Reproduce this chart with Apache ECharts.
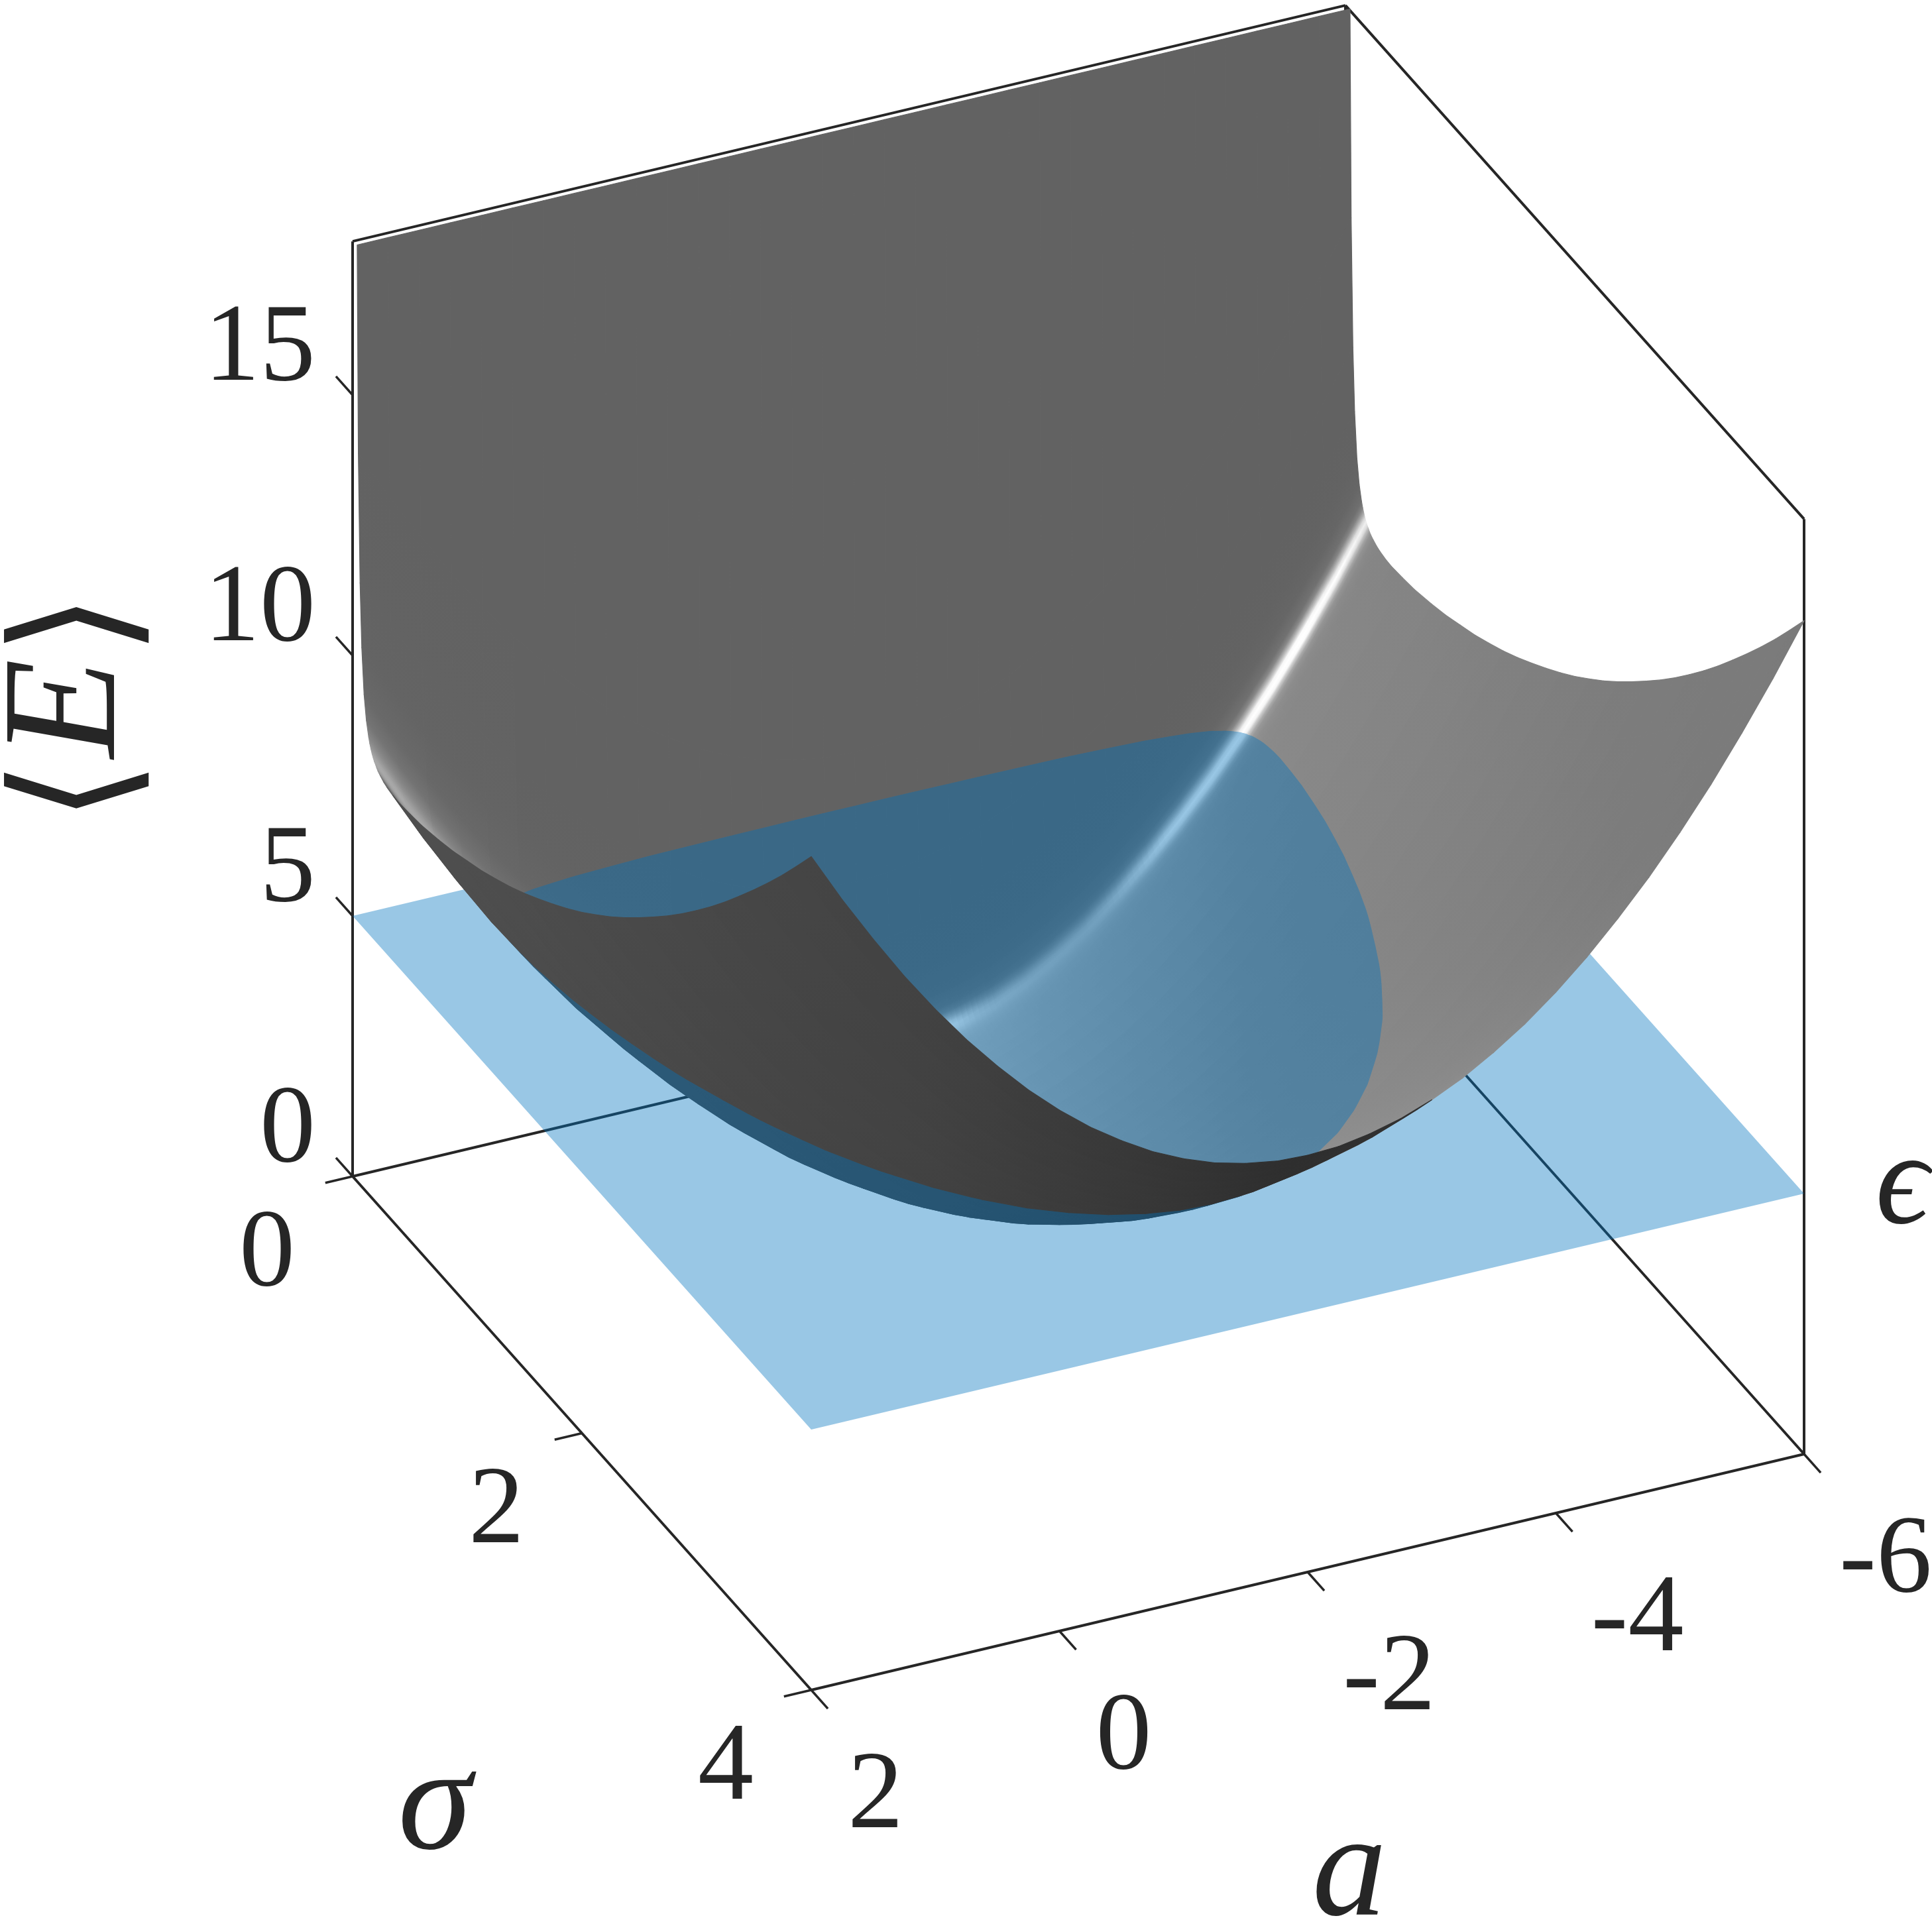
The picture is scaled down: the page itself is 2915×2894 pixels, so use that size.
<!DOCTYPE html>
<html><head><meta charset="utf-8">
<style>html,body{margin:0;padding:0;background:#fff}#c{width:2915px;height:2894px}</style>
<script src="https://cdn.jsdelivr.net/npm/echarts@6/dist/echarts.min.js"></script>
</head><body><div id="c"></div>
<script>
const aValues=[-6,-5.75,-5.5,-5.25,-5,-4.75,-4.5,-4.25,-4,-3.75,-3.5,-3.25,-3,-2.75,-2.5,-2.25,-2,-1.75,-1.5,-1.25,-1,-0.75,-0.5,-0.25,0,0.25,0.5,0.75,1,1.25,1.5,1.75,2];
const sigmaValues=[0.04,0.05,0.065,0.08,0.1,0.12,0.14,0.15,0.16,0.17,0.18,0.19,0.2,0.21,0.22,0.24,0.27,0.3,0.35,0.4,0.5,0.6,0.75,0.875,1,1.125,1.25,1.375,1.5,1.625,1.75,1.875,2,2.125,2.25,2.375,2.5,2.625,2.75,2.875,3,3.125,3.25,3.375,3.5,3.625,3.75,3.875,4];
const energy=[
[17.98,17.98,17.98,17.98,17.98,17.98,17.98,17.98,17.98,17.98,17.98,17.98,17.98,17.98,17.98,17.98,17.98,17.98,17.98,17.98,17.98,17.98,17.98,17.98,17.98,17.98,17.98,17.98,17.98,17.98,17.98,17.98,17.98],
[14,13.03,12.13,11.28,10.5,9.78,9.13,8.53,8,7.53,7.13,6.78,6.5,6.28,6.13,6.03,6,6.03,6.13,6.28,6.5,6.78,7.13,7.53,8,8.53,9.13,9.78,10.5,11.28,12.13,13.03,14],
[11.55,10.58,9.68,8.83,8.05,7.33,6.68,6.08,5.55,5.08,4.68,4.33,4.05,3.83,3.68,3.58,3.55,3.58,3.68,3.83,4.05,4.33,4.68,5.08,5.55,6.08,6.68,7.33,8.05,8.83,9.68,10.58,11.55],
[10.35,9.38,8.48,7.63,6.85,6.13,5.48,4.88,4.35,3.88,3.48,3.13,2.85,2.63,2.48,2.38,2.35,2.38,2.48,2.63,2.85,3.13,3.48,3.88,4.35,4.88,5.48,6.13,6.85,7.63,8.48,9.38,10.35],
[9.5,8.53,7.63,6.78,6,5.28,4.63,4.03,3.5,3.03,2.63,2.28,2,1.78,1.63,1.53,1.5,1.53,1.63,1.78,2,2.28,2.63,3.03,3.5,4.03,4.63,5.28,6,6.78,7.63,8.53,9.5],
[9.05,8.08,7.18,6.33,5.55,4.83,4.18,3.58,3.05,2.58,2.18,1.83,1.55,1.33,1.18,1.08,1.05,1.08,1.18,1.33,1.55,1.83,2.18,2.58,3.05,3.58,4.18,4.83,5.55,6.33,7.18,8.08,9.05],
[8.78,7.81,6.91,6.06,5.28,4.56,3.91,3.31,2.78,2.31,1.91,1.56,1.28,1.06,0.91,0.81,0.78,0.81,0.91,1.06,1.28,1.56,1.91,2.31,2.78,3.31,3.91,4.56,5.28,6.06,6.91,7.81,8.78],
[8.68,7.71,6.81,5.96,5.18,4.46,3.81,3.21,2.68,2.21,1.81,1.46,1.18,0.96,0.81,0.71,0.68,0.71,0.81,0.96,1.18,1.46,1.81,2.21,2.68,3.21,3.81,4.46,5.18,5.96,6.81,7.71,8.68],
[8.6,7.63,6.73,5.88,5.1,4.38,3.73,3.13,2.6,2.13,1.73,1.38,1.1,0.88,0.73,0.63,0.6,0.63,0.73,0.88,1.1,1.38,1.73,2.13,2.6,3.13,3.73,4.38,5.1,5.88,6.73,7.63,8.6],
[8.53,7.56,6.66,5.81,5.03,4.31,3.66,3.06,2.53,2.06,1.66,1.31,1.03,0.81,0.66,0.56,0.53,0.56,0.66,0.81,1.03,1.31,1.66,2.06,2.53,3.06,3.66,4.31,5.03,5.81,6.66,7.56,8.53],
[8.48,7.51,6.61,5.76,4.98,4.26,3.61,3.01,2.48,2.01,1.61,1.26,0.98,0.76,0.61,0.51,0.48,0.51,0.61,0.76,0.98,1.26,1.61,2.01,2.48,3.01,3.61,4.26,4.98,5.76,6.61,7.51,8.48],
[8.43,7.46,6.56,5.71,4.93,4.21,3.56,2.96,2.43,1.96,1.56,1.21,0.93,0.71,0.56,0.46,0.43,0.46,0.56,0.71,0.93,1.21,1.56,1.96,2.43,2.96,3.56,4.21,4.93,5.71,6.56,7.46,8.43],
[8.4,7.43,6.53,5.68,4.9,4.18,3.53,2.93,2.4,1.93,1.53,1.18,0.9,0.68,0.53,0.43,0.4,0.43,0.53,0.68,0.9,1.18,1.53,1.93,2.4,2.93,3.53,4.18,4.9,5.68,6.53,7.43,8.4],
[8.36,7.39,6.49,5.64,4.86,4.14,3.49,2.89,2.36,1.89,1.49,1.14,0.86,0.64,0.49,0.39,0.36,0.39,0.49,0.64,0.86,1.14,1.49,1.89,2.36,2.89,3.49,4.14,4.86,5.64,6.49,7.39,8.36],
[8.33,7.36,6.46,5.61,4.83,4.11,3.46,2.86,2.33,1.86,1.46,1.11,0.83,0.61,0.46,0.36,0.33,0.36,0.46,0.61,0.83,1.11,1.46,1.86,2.33,2.86,3.46,4.11,4.83,5.61,6.46,7.36,8.33],
[8.29,7.32,6.42,5.57,4.79,4.07,3.42,2.82,2.29,1.82,1.42,1.07,0.79,0.57,0.42,0.32,0.29,0.32,0.42,0.57,0.79,1.07,1.42,1.82,2.29,2.82,3.42,4.07,4.79,5.57,6.42,7.32,8.29],
[8.24,7.27,6.37,5.52,4.74,4.02,3.37,2.77,2.24,1.77,1.37,1.02,0.74,0.52,0.37,0.27,0.24,0.27,0.37,0.52,0.74,1.02,1.37,1.77,2.24,2.77,3.37,4.02,4.74,5.52,6.37,7.27,8.24],
[8.21,7.24,6.34,5.49,4.71,3.99,3.34,2.74,2.21,1.74,1.34,0.99,0.71,0.49,0.34,0.24,0.21,0.24,0.34,0.49,0.71,0.99,1.34,1.74,2.21,2.74,3.34,3.99,4.71,5.49,6.34,7.24,8.21],
[8.18,7.21,6.31,5.46,4.68,3.96,3.31,2.71,2.18,1.71,1.31,0.96,0.68,0.46,0.31,0.21,0.18,0.21,0.31,0.46,0.68,0.96,1.31,1.71,2.18,2.71,3.31,3.96,4.68,5.46,6.31,7.21,8.18],
[8.17,7.2,6.3,5.45,4.67,3.95,3.3,2.7,2.17,1.7,1.3,0.95,0.67,0.45,0.3,0.2,0.17,0.2,0.3,0.45,0.67,0.95,1.3,1.7,2.17,2.7,3.3,3.95,4.67,5.45,6.3,7.2,8.17],
[8.19,7.22,6.32,5.47,4.69,3.97,3.32,2.72,2.19,1.72,1.32,0.97,0.69,0.47,0.32,0.22,0.19,0.22,0.32,0.47,0.69,0.97,1.32,1.72,2.19,2.72,3.32,3.97,4.69,5.47,6.32,7.22,8.19],
[8.22,7.25,6.35,5.5,4.72,4,3.35,2.75,2.22,1.75,1.35,1,0.72,0.5,0.35,0.25,0.22,0.25,0.35,0.5,0.72,1,1.35,1.75,2.22,2.75,3.35,4,4.72,5.5,6.35,7.25,8.22],
[8.31,7.34,6.44,5.59,4.81,4.09,3.44,2.84,2.31,1.84,1.44,1.09,0.81,0.59,0.44,0.34,0.31,0.34,0.44,0.59,0.81,1.09,1.44,1.84,2.31,2.84,3.44,4.09,4.81,5.59,6.44,7.34,8.31],
[8.4,7.43,6.53,5.68,4.9,4.18,3.53,2.93,2.4,1.93,1.53,1.18,0.9,0.68,0.53,0.43,0.4,0.43,0.53,0.68,0.9,1.18,1.53,1.93,2.4,2.93,3.53,4.18,4.9,5.68,6.53,7.43,8.4],
[8.52,7.55,6.65,5.8,5.02,4.3,3.65,3.05,2.52,2.05,1.65,1.3,1.02,0.8,0.65,0.55,0.52,0.55,0.65,0.8,1.02,1.3,1.65,2.05,2.52,3.05,3.65,4.3,5.02,5.8,6.65,7.55,8.52],
[8.64,7.67,6.77,5.92,5.14,4.42,3.77,3.17,2.64,2.17,1.77,1.42,1.14,0.92,0.77,0.67,0.64,0.67,0.77,0.92,1.14,1.42,1.77,2.17,2.64,3.17,3.77,4.42,5.14,5.92,6.77,7.67,8.64],
[8.79,7.82,6.92,6.07,5.29,4.57,3.92,3.32,2.79,2.32,1.92,1.57,1.29,1.07,0.92,0.82,0.79,0.82,0.92,1.07,1.29,1.57,1.92,2.32,2.79,3.32,3.92,4.57,5.29,6.07,6.92,7.82,8.79],
[8.95,7.98,7.08,6.23,5.45,4.73,4.08,3.48,2.95,2.48,2.08,1.73,1.45,1.23,1.08,0.98,0.95,0.98,1.08,1.23,1.45,1.73,2.08,2.48,2.95,3.48,4.08,4.73,5.45,6.23,7.08,7.98,8.95],
[9.13,8.16,7.26,6.41,5.63,4.91,4.26,3.66,3.13,2.66,2.26,1.91,1.63,1.41,1.26,1.16,1.13,1.16,1.26,1.41,1.63,1.91,2.26,2.66,3.13,3.66,4.26,4.91,5.63,6.41,7.26,8.16,9.13],
[9.33,8.36,7.46,6.61,5.83,5.11,4.46,3.86,3.33,2.86,2.46,2.11,1.83,1.61,1.46,1.36,1.33,1.36,1.46,1.61,1.83,2.11,2.46,2.86,3.33,3.86,4.46,5.11,5.83,6.61,7.46,8.36,9.33],
[9.54,8.57,7.67,6.82,6.04,5.32,4.67,4.07,3.54,3.07,2.67,2.32,2.04,1.82,1.67,1.57,1.54,1.57,1.67,1.82,2.04,2.32,2.67,3.07,3.54,4.07,4.67,5.32,6.04,6.82,7.67,8.57,9.54],
[9.76,8.79,7.89,7.04,6.26,5.54,4.89,4.29,3.76,3.29,2.89,2.54,2.26,2.04,1.89,1.79,1.76,1.79,1.89,2.04,2.26,2.54,2.89,3.29,3.76,4.29,4.89,5.54,6.26,7.04,7.89,8.79,9.76],
[10,9.03,8.13,7.28,6.5,5.78,5.13,4.53,4,3.53,3.13,2.78,2.5,2.28,2.13,2.03,2,2.03,2.13,2.28,2.5,2.78,3.13,3.53,4,4.53,5.13,5.78,6.5,7.28,8.13,9.03,10],
[10.26,9.29,8.39,7.54,6.76,6.04,5.39,4.79,4.26,3.79,3.39,3.04,2.76,2.54,2.39,2.29,2.26,2.29,2.39,2.54,2.76,3.04,3.39,3.79,4.26,4.79,5.39,6.04,6.76,7.54,8.39,9.29,10.26],
[10.53,9.56,8.66,7.81,7.03,6.31,5.66,5.06,4.53,4.06,3.66,3.31,3.03,2.81,2.66,2.56,2.53,2.56,2.66,2.81,3.03,3.31,3.66,4.06,4.53,5.06,5.66,6.31,7.03,7.81,8.66,9.56,10.53],
[10.82,9.85,8.95,8.1,7.32,6.6,5.95,5.35,4.82,4.35,3.95,3.6,3.32,3.1,2.95,2.85,2.82,2.85,2.95,3.1,3.32,3.6,3.95,4.35,4.82,5.35,5.95,6.6,7.32,8.1,8.95,9.85,10.82],
[11.13,10.16,9.26,8.41,7.63,6.91,6.26,5.66,5.13,4.66,4.26,3.91,3.63,3.41,3.26,3.16,3.13,3.16,3.26,3.41,3.63,3.91,4.26,4.66,5.13,5.66,6.26,6.91,7.63,8.41,9.26,10.16,11.13],
[11.45,10.48,9.58,8.73,7.95,7.23,6.58,5.98,5.45,4.98,4.58,4.23,3.95,3.73,3.58,3.48,3.45,3.48,3.58,3.73,3.95,4.23,4.58,4.98,5.45,5.98,6.58,7.23,7.95,8.73,9.58,10.48,11.45],
[11.78,10.81,9.91,9.06,8.28,7.56,6.91,6.31,5.78,5.31,4.91,4.56,4.28,4.06,3.91,3.81,3.78,3.81,3.91,4.06,4.28,4.56,4.91,5.31,5.78,6.31,6.91,7.56,8.28,9.06,9.91,10.81,11.78],
[12.13,11.16,10.26,9.41,8.63,7.91,7.26,6.66,6.13,5.66,5.26,4.91,4.63,4.41,4.26,4.16,4.13,4.16,4.26,4.41,4.63,4.91,5.26,5.66,6.13,6.66,7.26,7.91,8.63,9.41,10.26,11.16,12.13],
[12.5,11.53,10.63,9.78,9,8.28,7.63,7.03,6.5,6.03,5.63,5.28,5,4.78,4.63,4.53,4.5,4.53,4.63,4.78,5,5.28,5.63,6.03,6.5,7.03,7.63,8.28,9,9.78,10.63,11.53,12.5],
[12.88,11.91,11.01,10.16,9.38,8.66,8.01,7.41,6.88,6.41,6.01,5.66,5.38,5.16,5.01,4.91,4.88,4.91,5.01,5.16,5.38,5.66,6.01,6.41,6.88,7.41,8.01,8.66,9.38,10.16,11.01,11.91,12.88],
[13.28,12.31,11.41,10.56,9.78,9.06,8.41,7.81,7.28,6.81,6.41,6.06,5.78,5.56,5.41,5.31,5.28,5.31,5.41,5.56,5.78,6.06,6.41,6.81,7.28,7.81,8.41,9.06,9.78,10.56,11.41,12.31,13.28],
[13.7,12.73,11.83,10.98,10.2,9.48,8.83,8.23,7.7,7.23,6.83,6.48,6.2,5.98,5.83,5.73,5.7,5.73,5.83,5.98,6.2,6.48,6.83,7.23,7.7,8.23,8.83,9.48,10.2,10.98,11.83,12.73,13.7],
[14.13,13.16,12.26,11.41,10.63,9.91,9.26,8.66,8.13,7.66,7.26,6.91,6.63,6.41,6.26,6.16,6.13,6.16,6.26,6.41,6.63,6.91,7.26,7.66,8.13,8.66,9.26,9.91,10.63,11.41,12.26,13.16,14.13],
[14.57,13.6,12.7,11.85,11.07,10.35,9.7,9.1,8.57,8.1,7.7,7.35,7.07,6.85,6.7,6.6,6.57,6.6,6.7,6.85,7.07,7.35,7.7,8.1,8.57,9.1,9.7,10.35,11.07,11.85,12.7,13.6,14.57],
[15.03,14.06,13.16,12.31,11.53,10.81,10.16,9.56,9.03,8.56,8.16,7.81,7.53,7.31,7.16,7.06,7.03,7.06,7.16,7.31,7.53,7.81,8.16,8.56,9.03,9.56,10.16,10.81,11.53,12.31,13.16,14.06,15.03],
[15.51,14.54,13.64,12.79,12.01,11.29,10.64,10.04,9.51,9.04,8.64,8.29,8.01,7.79,7.64,7.54,7.51,7.54,7.64,7.79,8.01,8.29,8.64,9.04,9.51,10.04,10.64,11.29,12.01,12.79,13.64,14.54,15.51],
[16,15.03,14.13,13.28,12.5,11.78,11.13,10.53,10,9.53,9.13,8.78,8.5,8.28,8.13,8.03,8,8.03,8.13,8.28,8.5,8.78,9.13,9.53,10,10.53,11.13,11.78,12.5,13.28,14.13,15.03,16]
];
const planeLevel=5;
const energyTicks=[0,5,10,15];
const sigmaTicks=[0,2,4];
const aTicks=[2,0,-2,-4,-6];
const aRange=[-6,2], sigmaRange=[0,4], energyMax=17.95;

// Orthographic view: data (a, sigma, E) -> plane of the picture.
function project(a,s,e){const u=2-a;return [532+187.25*u+173*s,1775-44.5*u+193.75*s-78.6*e];}
const INK='#262626', SERIF='"Liberation Serif","DejaVu Serif",serif';

function table(t,x){
  if(x<=t[0][0])return t[0][1];
  for(let i=1;i<t.length;i++){if(x<=t[i][0]){const f=(x-t[i-1][0])/(t[i][0]-t[i-1][0]);return t[i-1][1]+f*(t[i][1]-t[i-1][1]);}}
  return t[t.length-1][1];
}
const floorShade=[[4.85,190],[5.5,172],[6.2,158],[6.7,150],[7.15,140],[7.6,136],[8.3,133],[10.3,124],[12,122]];
const underShade=[[0.9,78],[3.3,70],[4.64,66],[6.24,56],[7.57,46],[8.64,50],[12,60]];
const ridgeGain=[[4.4,1.1],[4.65,1],[4.85,0.5],[5,0.3],[5.3,0.2],[5.7,0.22],[5.9,0.35],[6.2,0.7],[6.4,0.95],[7.5,1.2],[8,0.85]];
function smooth(a,b,x){const t=Math.min(1,Math.max(0,(x-a)/(b-a)));return t*t*(3-2*t);}
function shadeTop(u,s){
  const q=u+0.924*s;
  const f=table(floorShade,q)+4*Math.max(0,s-1)*Math.min(1,Math.max(0,(7-u)/2));
  let v=98+(f-98)*smooth(0.15,0.2,s)*smooth(3.2,4.4,u);
  v+=16*Math.exp(-Math.pow((s-0.18)/0.05,2));
  const H=Math.min(1,Math.max(0,1-(u-0.3)/2.4));
  v+=55*H*Math.exp(-Math.pow((s-0.19)/0.06,2));
  const g=u>=4.4?table(ridgeGain,u):0;
  v+=g*(255-v)*Math.exp(-Math.pow((s-0.18)/0.022,2));
  return Math.min(255,v);
}
function shadeUnder(u,s){return table(underShade,u+0.924*s);}
function grey(v){const n=Math.round(v);return 'rgb('+n+','+n+','+n+')';}

function clipAt(pts,keepBelow){
  const out=[],n=pts.length,ins=p=>keepBelow?p[2]<=planeLevel:p[2]>=planeLevel;
  for(let i=0;i<n;i++){
    const A=pts[i],B=pts[(i+1)%n],ia=ins(A),ib=ins(B);
    if(ia)out.push(A);
    if(ia!==ib){const t=(planeLevel-A[2])/(B[2]-A[2]);out.push([A[0]+t*(B[0]-A[0]),A[1]+t*(B[1]-A[1]),planeLevel]);}
  }
  return out;
}
// Fill of one cell: a gradient whose iso-lines run along the cell's edges.
function cellFill(c,sh,acrossRows){
  const mid=(p,q)=>[(p[0]+q[0])/2,(p[1]+q[1])/2];
  const L=mid(c[0],c[3]),R=mid(c[1],c[2]),T=mid(c[0],c[1]),B=mid(c[3],c[2]);
  const du=Math.abs(sh[1]+sh[2]-sh[0]-sh[3])/2, ds=Math.abs(sh[3]+sh[2]-sh[0]-sh[1])/2;
  let P,D,n,v0,v1;
  if(acrossRows||ds>=du){P=T;D=[B[0]-T[0],B[1]-T[1]];const d=[R[0]-L[0],R[1]-L[1]];n=[-d[1],d[0]];v0=(sh[0]+sh[1])/2;v1=(sh[2]+sh[3])/2;}
  else{P=L;D=[R[0]-L[0],R[1]-L[1]];const e=[B[0]-T[0],B[1]-T[1]];n=[-e[1],e[0]];v0=(sh[0]+sh[3])/2;v1=(sh[1]+sh[2])/2;}
  const nn=n[0]*n[0]+n[1]*n[1];
  if(nn<1e-6)return grey((v0+v1)/2);
  const t=(D[0]*n[0]+D[1]*n[1])/nn, ex=n[0]*t, ey=n[1]*t;
  if(ex*ex+ey*ey<0.25)return grey((v0+v1)/2);
  return new echarts.graphic.LinearGradient(P[0],P[1],P[0]+ex,P[1]+ey,[{offset:0,color:grey(v0)},{offset:1,color:grey(v1)}],true);
}
function drawPiece(api,v,keepBelow,acrossRows){
  const part=clipAt(v,keepBelow);
  if(part.length<3)return null;
  const c=v.map(p=>api.coord(project(p[0],p[1],p[2])));
  const cross=(c[2][0]-c[0][0])*(c[3][1]-c[1][1])-(c[2][1]-c[0][1])*(c[3][0]-c[1][0]);
  const shade=cross<0?shadeTop:shadeUnder;
  const fill=cellFill(c,v.map(p=>shade(2-p[0],p[1])),acrossRows);
  return {type:'polygon',shape:{points:part.map(p=>api.coord(project(p[0],p[1],p[2])))},
    style:{fill:fill,stroke:fill,lineWidth:1.2,lineJoin:'round'},silent:true};
}
function quadRenderer(keepBelow){
  return function(params,api){
    const j=api.value(0),i=api.value(1);
    const v=[[aValues[j],sigmaValues[i],energy[i][j]],[aValues[j+1],sigmaValues[i],energy[i][j+1]],
             [aValues[j+1],sigmaValues[i+1],energy[i+1][j+1]],[aValues[j],sigmaValues[i+1],energy[i+1][j]]];
    const near=sigmaValues[i+1]<=0.3;
    // The highlight changes quickly along a: paint those cells in narrow strips of the same flat cell.
    const strips=(near&&sigmaValues[i]>=0.12&&aValues[j]<-2)?6:1;
    const ch=[];
    const at=(A,B,t)=>[A[0]+t*(B[0]-A[0]),A[1]+t*(B[1]-A[1]),A[2]+t*(B[2]-A[2])];
    for(let k=0;k<strips;k++){
      const t0=k/strips,t1=(k+1)/strips;
      const piece=drawPiece(api,[at(v[0],v[1],t0),at(v[0],v[1],t1),at(v[3],v[2],t1),at(v[3],v[2],t0)],keepBelow,near);
      if(piece)ch.push(piece);
    }
    return ch.length?{type:'group',children:ch}:null;
  };
}
const quads=[];
for(let i=0;i<sigmaValues.length-1;i++)for(let j=0;j<aValues.length-1;j++)quads.push([j,i]);

function seg(api,p,q,w){const A=api.coord(project(...p)),B=api.coord(project(...q));
  return {type:'line',shape:{x1:A[0],y1:A[1],x2:B[0],y2:B[1]},style:{stroke:INK,lineWidth:w||4,lineCap:'butt'},silent:true};}
function renderFrame(params,api){
  const [a0,a1]=aRange,[s0,s1]=sigmaRange,Z=energyMax,ch=[];
  [[[a1,s0,0],[a1,s0,Z]],[[a1,s0,Z],[a0,s0,Z]],[[a0,s0,Z],[a0,s1,Z]],[[a0,s1,Z],[a0,s1,0]],[[a0,s0,0],[a0,s0,Z]],
   [[a1,s0,0],[a0,s0,0]],[[a0,s0,0],[a0,s1,0]],[[a1,s0,0],[a1,s1,0]],[[a1,s1,0],[a0,s1,0]]]
   .forEach(e=>ch.push(seg(api,e[0],e[1],4)));
  energyTicks.forEach(t=>ch.push(seg(api,[a1,0,t],[a1,-0.145,t],3.5)));
  sigmaTicks.forEach(t=>ch.push(seg(api,[a1,t,0],[a1+0.22,t,0],3.5)));
  aTicks.forEach(t=>ch.push(seg(api,[t,s1,0],[t,s1+0.145,0],3.5)));
  return {type:'group',children:ch};
}
function renderPlane(params,api){
  const [a0,a1]=aRange,[s0,s1]=sigmaRange;
  const pts=[[a1,s0],[a1,s1],[a0,s1],[a0,s0]].map(p=>api.coord(project(p[0],p[1],planeLevel)));
  return {type:'polygon',shape:{points:pts},style:{fill:'rgba(0,114,189,0.4)'},silent:true};
}
function txt(x,y,text,size,italic,extra){
  return Object.assign({type:'text',x:x,y:y,silent:true,style:{text:text,x:0,y:0,align:'center',verticalAlign:'middle',
    fontFamily:SERIF,fontSize:size,fontStyle:italic?'italic':'normal',fill:INK}},extra||{});
}
function renderText(params,api){
  const ch=[],a1=aRange[1],s1=sigmaRange[1],D=168;
  energyTicks.forEach(t=>{const p=api.coord(project(a1,0,t));
    const e=txt(p[0]-56,p[1]-67,String(t),D,false);e.style.align='right';ch.push(e);});
  sigmaTicks.forEach(t=>{const p=api.coord(project(a1,t,0));ch.push(txt(p[0]-129,p[1]+120,String(t),D,false));});
  aTicks.forEach(t=>{const p=api.coord(project(t,s1,0));ch.push(txt(p[0]+(t<0?123:97),p[1]+163,String(t),D,false));});
  const c=(x,y)=>api.coord([x,y]);
  let q=c(656,2730);ch.push(txt(q[0],q[1],'σ',225,true));
  q=c(2036,2830);ch.push(txt(q[0],q[1],'a',225,true));
  q=c(2870,1792);ch.push(txt(q[0],q[1],'ϵ',200,true));
  q=c(108,1069);ch.push(txt(q[0],q[1],'E',245,true,{rotation:Math.PI/2}));
  q=c(128,942);ch.push(txt(q[0],q[1],'⟩',245,false,{rotation:Math.PI/2}));
  q=c(128,1194);ch.push(txt(q[0],q[1],'⟨',245,false,{rotation:Math.PI/2}));
  return {type:'group',children:ch};
}
const chart=echarts.init(document.getElementById('c'),null,{renderer:'canvas'});
const base={type:'custom',coordinateSystem:'cartesian2d',animation:false,clip:false,silent:true,progressive:0};
chart.setOption({
  animation:false,backgroundColor:'#fff',
  grid:{left:0,right:0,top:0,bottom:0},
  xAxis:{type:'value',min:0,max:2915,show:false},
  yAxis:{type:'value',min:0,max:2894,inverse:true,show:false},
  tooltip:{show:false},
  series:[
    Object.assign({},base,{name:'frame',z:1,data:[[0,0]],renderItem:renderFrame}),
    Object.assign({},base,{name:'surface below plane',z:2,data:quads,renderItem:quadRenderer(true)}),
    Object.assign({},base,{name:'plane',z:3,data:[[0,0]],renderItem:renderPlane}),
    Object.assign({},base,{name:'surface above plane',z:4,data:quads,renderItem:quadRenderer(false)}),
    Object.assign({},base,{name:'labels',z:5,data:[[0,0]],renderItem:renderText})
  ]
});
</script></body></html>
